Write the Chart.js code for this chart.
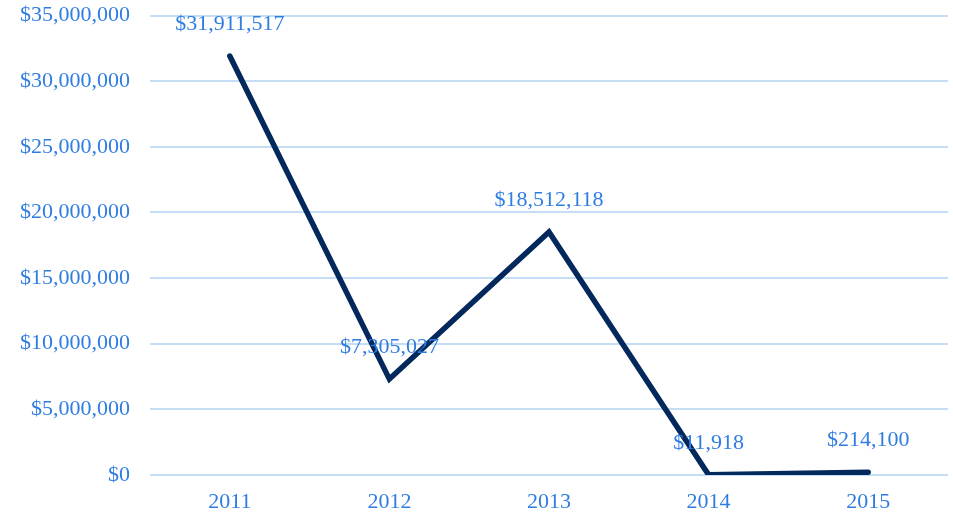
<!DOCTYPE html>
<html>
<head>
<meta charset="utf-8">
<script src="https://cdn.jsdelivr.net/npm/chart.js@4/dist/chart.umd.min.js"></script>
<style>
  html, body { margin: 0; padding: 0; background: #fff; overflow: hidden; }
  #wrap { position: relative; width: 953px; height: 514px; overflow: hidden; }
  #lineChart { position: absolute; left: 0; top: -10px; }
</style>
</head>
<body>
<div id="wrap"><canvas id="lineChart" width="953" height="532"></canvas></div>
<script>
const years = ["2011", "2012", "2013", "2014", "2015"];
const amounts = [31911517, 7305027, 18512118, 11918, 214100];
const yTicksMax = 35000000;
const yTicksStep = 5000000;

const money = v => "$" + Math.round(v).toLocaleString("en-US");

// draws the value above each point
const valueLabels = {
  id: "valueLabels",
  afterDatasetsDraw(chart) {
    const ctx = chart.ctx;
    const meta = chart.getDatasetMeta(0);
    ctx.save();
    ctx.font = "22px 'Liberation Serif'";
    ctx.fillStyle = "#2f7de1";
    ctx.textAlign = "center";
    ctx.textBaseline = "middle";
    meta.data.forEach((pt, i) => {
      ctx.fillText(money(amounts[i]), pt.x, pt.y - 32);
    });
    ctx.restore();
  }
};

function initChart() {
  const ctx = document.getElementById("lineChart").getContext("2d");
  new Chart(ctx, {
    type: "line",
    data: {
      labels: years,
      datasets: [{
        data: amounts,
        borderColor: "#03295c",
        borderWidth: 5.5,
        borderCapStyle: "round",
        borderJoinStyle: "miter",
        pointRadius: 0,
        fill: false,
        tension: 0
      }]
    },
    options: {
      responsive: false,
      animation: false,
      layout: { padding: { top: 4, right: 5, left: 0, bottom: 0 } },
      plugins: {
        legend: { display: false },
        tooltip: { enabled: false }
      },
      scales: {
        x: {
          offset: true,
          grid: { display: false },
          border: { display: false },
          ticks: { color: "#2f7de1", font: { family: "'Liberation Serif'", size: 22, lineHeight: 0.5 }, padding: 14 }
        },
        y: {
          min: 0,
          max: yTicksMax,
          border: { display: false },
          grid: { color: "#c6ddf6", lineWidth: 2, drawTicks: false },
          ticks: {
            stepSize: yTicksStep,
            color: "#2f7de1",
            font: { family: "'Liberation Serif'", size: 22, lineHeight: 0.5 },
            padding: 20,
            callback: v => money(v)
          }
        }
      }
    },
    plugins: [valueLabels]
  });
}

window.onload = initChart;
</script>
</body>
</html>
